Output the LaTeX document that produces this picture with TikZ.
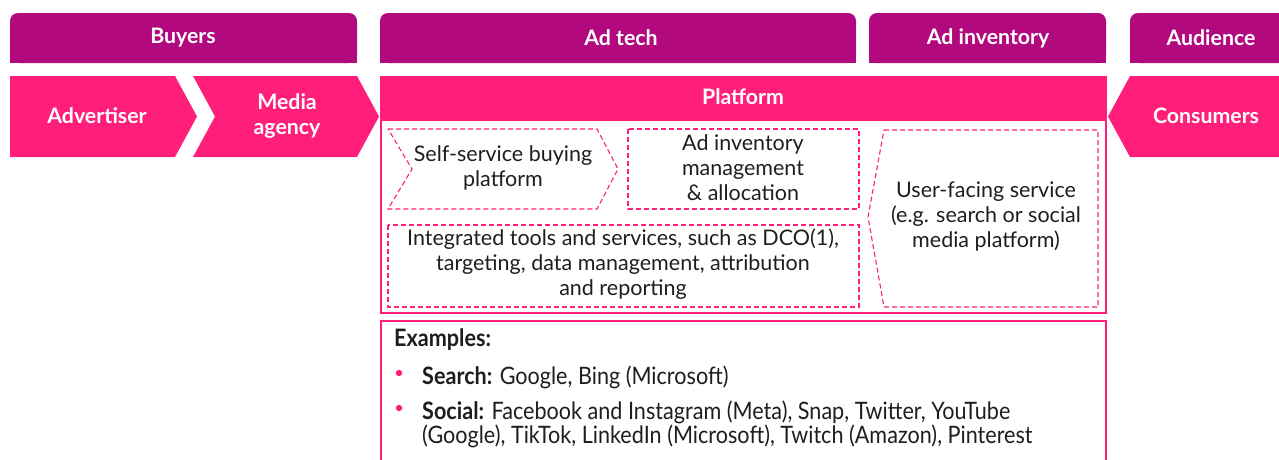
\documentclass[tikz,border=0pt]{standalone}
\usepackage{fontspec}
\setmainfont{Lato}
\newfontfamily\exfont[FakeStretch=0.9]{Lato}
\definecolor{hdr}{HTML}{B2097F}
\definecolor{pk}{HTML}{FF1F7B}
\definecolor{txt}{HTML}{1E1E1E}
\begin{document}
\begin{tikzpicture}[x=1pt,y=-1pt,
  hdrtxt/.style={text=white,font=\fontsize{21.3}{25}\selectfont\bfseries,align=center,inner sep=0pt},
  body/.style={text=txt,font=\fontsize{21.5}{25}\selectfont,align=center,inner sep=0pt},
  dbox/.style={draw=pk,line width=1.1pt,dash pattern=on 5pt off 3pt},
  extxt/.style={text=txt,font=\exfont\fontsize{24}{24}\selectfont,align=left,anchor=west,inner sep=0pt}]
\useasboundingbox (0,0) rectangle (1279,459);
% header bars
\foreach \a/\b in {10/357,380/856,869/1106,1130/1300}{
  \fill[hdr,rounded corners=8pt] (\a,13) rectangle (\b,63);
  \fill[hdr] (\a,40) rectangle (\b,63);
}
\node[hdrtxt] (hbuy) at (183,38) {Buyers};
\node[hdrtxt] (hadt) at (621,38) {Ad tech};
\node[hdrtxt] (hinv) at (988,38) {Ad inventory};
\node[hdrtxt] (haud) at (1211,38) {Audience};
% chevrons
\fill[pk] (10,76) -- (175,76) -- (197,116.5) -- (175,157) -- (10,157) -- cycle;
\fill[pk] (193,76) -- (357,76) -- (379,116.5) -- (357,157) -- (193,157) -- (215,116.5) -- cycle;
\node[hdrtxt] (adv) at (97,116) {Advertiser};
\node[hdrtxt] (mag) at (287,116) {Media\\agency};
% consumers
\fill[pk] (1108,116.5) -- (1130,76) -- (1290,76) -- (1290,157) -- (1130,157) -- cycle;
\node[hdrtxt] (cons) at (1206,116) {Consumers};
% platform
\draw[pk,line width=1.5pt] (381,77) rectangle (1106,313);
\fill[pk] (380,76) rectangle (1107,121);
\node[hdrtxt] (plat) at (743,97) {Platform};
% dashed boxes
\draw[dbox] (388,129) -- (597,129) -- (618,169) -- (597,209) -- (388,209) -- (412,169) -- cycle;
\node[body] (ss) at (503,168) {Self-service buying\\platform};
\draw[dbox] (628,129) rectangle (859,209);
\node[body] (ai) at (743,168) {Ad inventory\\management\\\& allocation};
\draw[dbox] (388,225) rectangle (859,307);
\node[body] (it) at (623,264) {Integrated tools and services, such as DCO(1),\\targeting, data management, attribution\\and reporting};
\draw[dbox] (884,130) -- (1098,130) -- (1098,307) -- (884,307) -- (868,217) -- cycle;
\node[body] (uf) at (986,216) {User-facing service\\(e.g. search or social\\media platform)};
% examples
\draw[pk,line width=1.5pt] (381,321) rectangle (1106,480);
\node[extxt,font=\exfont\fontsize{24}{24}\selectfont\bfseries] (exh) at (394,340) {Examples:};
\fill[pk] (399,373) circle (3.2pt);
\fill[pk] (399,408) circle (3.2pt);
\node[extxt] (ex1) at (422,377) {\textbf{Search:} Google, Bing (Microsoft)};
\node[extxt,anchor=north west] (ex2) at (422,401) {\textbf{Social:} Facebook and Instagram (Meta), Snap, Twitter, YouTube\\(Google), TikTok, LinkedIn (Microsoft), Twitch (Amazon), Pinterest};
\end{tikzpicture}
\end{document}
